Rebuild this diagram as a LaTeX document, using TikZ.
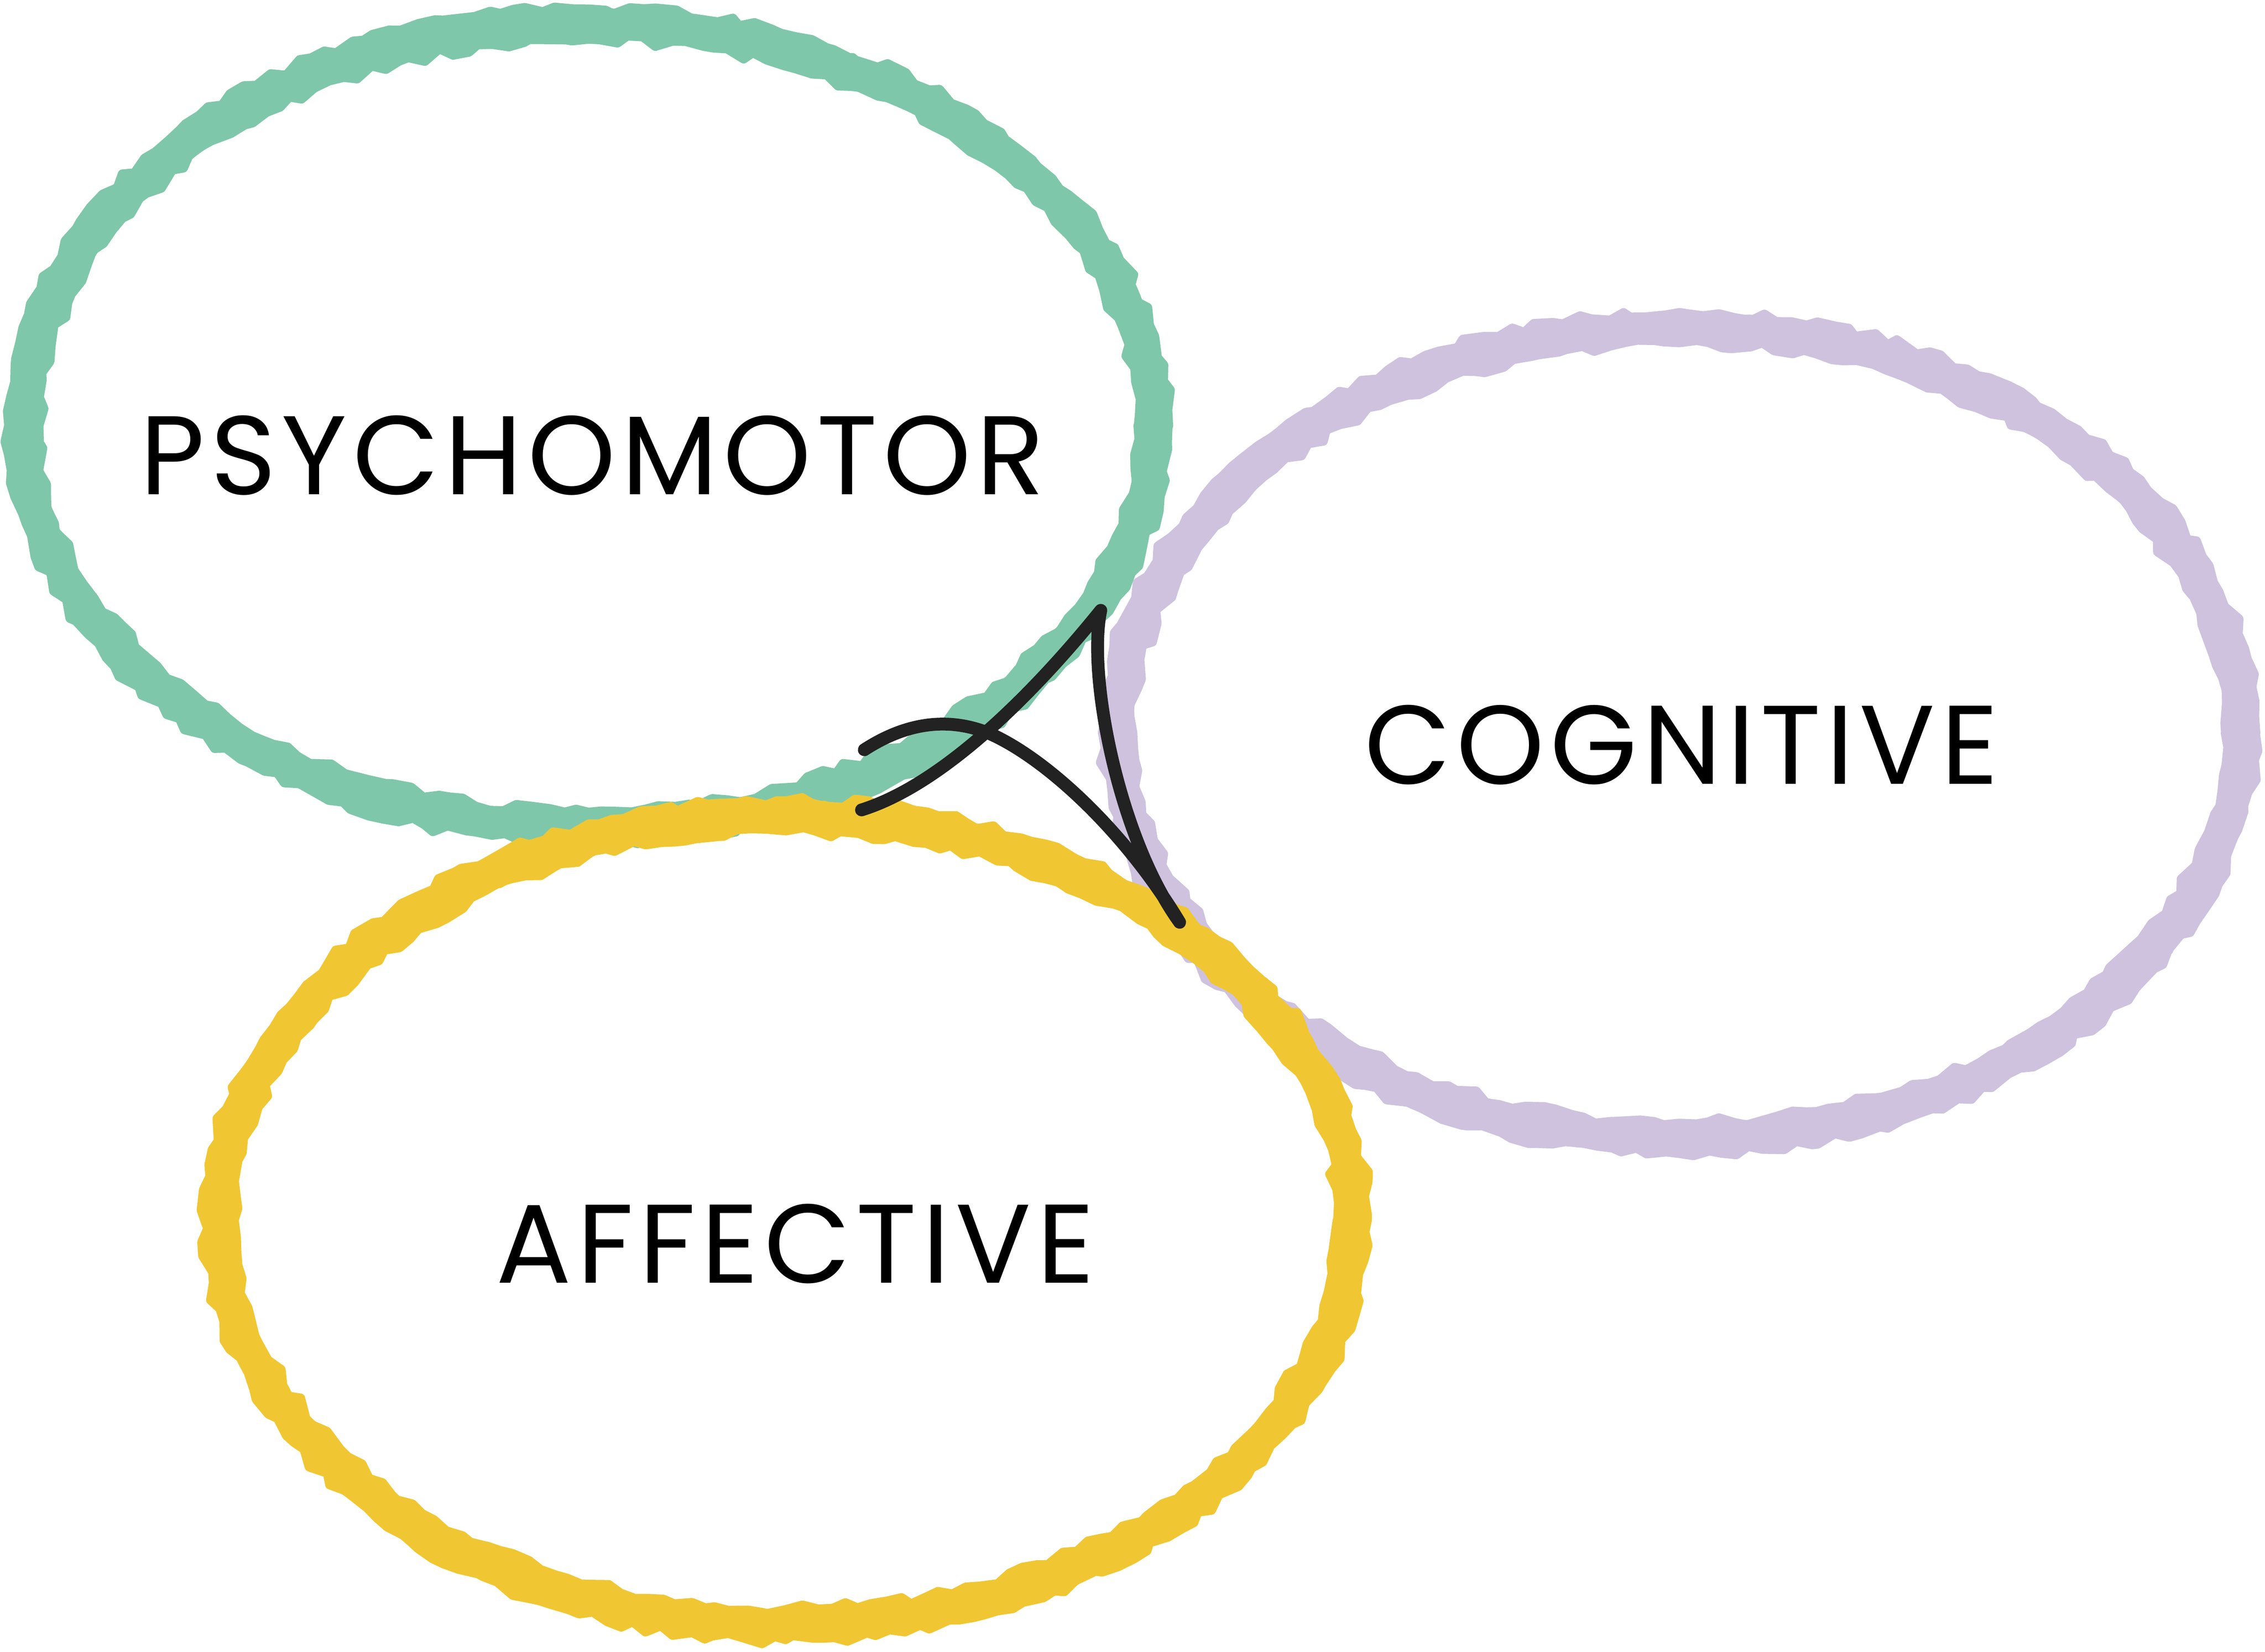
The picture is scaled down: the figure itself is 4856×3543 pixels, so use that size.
\documentclass[tikz,border=0pt]{standalone}
\usepackage{fontspec}
\setmainfont{Poppins}[LetterSpace=5]
\usetikzlibrary{decorations.pathmorphing}
\definecolor{psyc}{HTML}{7FC7AA}
\definecolor{cogn}{HTML}{CEC2DF}
\definecolor{affe}{HTML}{F0C732}
\definecolor{ink}{HTML}{222222}
\begin{document}
\begin{tikzpicture}[x=0.2pt,y=-0.2pt,
  chalkbase/.style={draw=#1, line width=13pt},
  chalkrough/.style={draw=#1, line width=4pt, line join=round, line cap=round,
    decorate, decoration={random steps, segment length=6pt, amplitude=2pt}},
  inkline/.style={draw=ink, line width=5.5pt, line cap=round, line join=round},
  inkrough/.style={draw=ink, line width=2.5pt, line cap=round, line join=round,
    decorate, decoration={random steps, segment length=2.5pt, amplitude=1.2pt}},
  lbl/.style={font=\fontsize{48}{48}\selectfont, inner sep=0pt, text=black}]
\useasboundingbox (0,0) rectangle (4856,3543);
\pgfmathsetseed{7}
\newcommand\chalkring[4]{% colour, centre, rx, ry
  \draw[chalkbase=#1] #2 ellipse [x radius=#3, y radius=#4];
  \foreach \d in {-32,-16,0,16,32}{
    \pgfmathsetmacro\rxx{#3+\d}\pgfmathsetmacro\ryy{#4+\d}
    \draw[chalkrough=#1] #2 ellipse [x radius=\rxx, y radius=\ryy];
  }}
\chalkring{psyc}{(1262,913)}{1210}{861}
\chalkring{cogn}{(3600,1572)}{1203}{869}
\chalkring{affe}{(1685,2617)}{1214}{867}
% labels
\node[lbl] (psy) at (1270,977) {PSYCHOMOTOR};
\node[lbl] (cog) at (3605,1598) {COGNITIVE};
\node[lbl] (aff) at (1705,2667) {AFFECTIVE};
% central knot
\coordinate (A) at (1853,1608);
\coordinate (X) at (2121,1573);
\coordinate (B) at (2529,1978);
\coordinate (T) at (2360,1309);
\coordinate (C) at (1847,1737);
\foreach \s in {inkline,inkrough}{
  \draw[\s] (A) .. controls (1950,1545) and (2040,1540) .. (X)
    .. controls (2240,1625) and (2410,1780) .. (B)
    .. controls (2400,1800) and (2330,1450) .. (T)
    .. controls (2230,1470) and (2030,1680) .. (C);
}
\end{tikzpicture}
\end{document}
